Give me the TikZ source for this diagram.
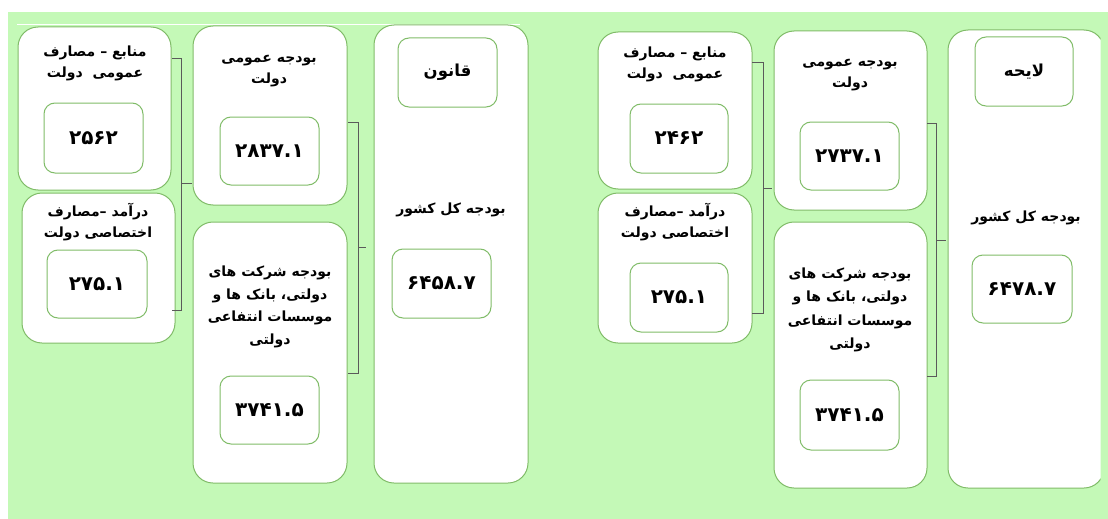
\documentclass[tikz,border=0pt]{standalone}
\usepackage{fontspec}
\newfontfamily\fa[Script=Arabic]{DejaVu Sans}
\TeXXeTstate=1
\definecolor{bggreen}{RGB}{196,249,183}
\definecolor{bord}{RGB}{128,188,104}
\definecolor{brk}{RGB}{90,90,90}
\tikzset{
  outerbox/.style={draw=bord, line width=1pt, fill=white, rounded corners=20pt, inner sep=0pt, outer sep=0pt},
  innerbox/.style={draw=bord, line width=1pt, fill=white, rounded corners=11pt, inner sep=0pt, outer sep=0pt, font=\fa\bfseries\fontsize{20pt}{22pt}\selectfont},
  headbox/.style={innerbox, font=\fa\bfseries\fontsize{16.5pt}{20pt}\selectfont},
  title/.style={font=\fa\bfseries\fontsize{14pt}{21pt}\selectfont, align=center, inner sep=0pt, text=black},
  bracket/.style={draw=brk, line width=0.7pt},
}
\newcommand{\rtl}[1]{\beginR #1\endR}
\begin{document}
\begin{tikzpicture}[x=1pt,y=-1pt]
\useasboundingbox (0,0) rectangle (1108,519);
\fill[white] (0,0) rectangle (1108,519);
\fill[bggreen] (8,12) rectangle (1108,519);
\draw[white, line width=1pt] (17,25) -- (520,25);
% ---------------- left group (qanun)
\node[outerbox, minimum width=153pt, minimum height=163pt] (A) at (94.5,108.5) {};
\node[outerbox, minimum width=153pt, minimum height=150pt] (B) at (98.5,268) {};
\node[outerbox, minimum width=154pt, minimum height=179pt] (C) at (270,115.5) {};
\node[outerbox, minimum width=154pt, minimum height=261pt] (D) at (270,352.5) {};
\node[outerbox, minimum width=154pt, minimum height=458pt] (E) at (451,254) {};
\node[innerbox, minimum width=99pt, minimum height=70pt] (iA) at (93.5,138) {۲۵۶۲};
\node[innerbox, minimum width=100pt, minimum height=68pt] (iB) at (97,284) {۲۷۵.۱};
\node[innerbox, minimum width=99pt, minimum height=68pt] (iC) at (269.5,151) {۲۸۳۷.۱};
\node[innerbox, minimum width=99pt, minimum height=68pt] (iD) at (269.5,410) {۳۷۴۱.۵};
\node[headbox, minimum width=99pt, minimum height=69pt] (iE1) at (447.5,72.5) {\rtl{قانون}};
\node[innerbox, minimum width=99pt, minimum height=69pt] (iE2) at (441.5,283.5) {۶۴۵۸.۷};
\node[title] (tA) at (95,63) {\rtl{منابع – مصارف}\\\rtl{عمومی\ \ دولت}};
\node[title] (tB) at (98,222) {\rtl{درآمد –مصارف}\\\rtl{اختصاصی دولت}};
\node[title] (tC) at (269,71) {\rtl{بودجه عمومی}\\\rtl{دولت}};
\node[title, font=\fa\bfseries\fontsize{14pt}{22.5pt}\selectfont] (tD) at (270,307) {\rtl{بودجه شرکت های}\\\rtl{دولتی، بانک ها و}\\\rtl{موسسات انتفاعی}\\\rtl{دولتی}};
\node[title] (tE) at (451,210) {\rtl{بودجه کل کشور}};
% brackets
\coordinate (b1t) at (172,58); \coordinate (b1b) at (172,310);
\coordinate (b1x) at (181,58); \coordinate (b1y) at (181,310);
\coordinate (b1m) at (181,183); \coordinate (b1n) at (192,183);
\draw[bracket] (b1t) -- (b1x) -- (b1y) -- (b1b);
\draw[bracket] (b1m) -- (b1n);
\coordinate (b2t) at (348,122); \coordinate (b2b) at (348,373);
\coordinate (b2x) at (358,122); \coordinate (b2y) at (358,373);
\coordinate (b2m) at (358,247); \coordinate (b2n) at (366,247);
\draw[bracket] (b2t) -- (b2x) -- (b2y) -- (b2b);
\draw[bracket] (b2m) -- (b2n);
% ---------------- right group (layehe)
\begin{scope}
\clip (0,0) rectangle (1100.5,519);
\node[outerbox, minimum width=156pt, minimum height=458pt] (E2) at (1026,259) {};
\end{scope}
\node[outerbox, minimum width=154pt, minimum height=157pt] (A2) at (675,110.5) {};
\node[outerbox, minimum width=154pt, minimum height=150pt] (B2) at (675,268) {};
\node[outerbox, minimum width=153pt, minimum height=179pt] (C2) at (850.5,120.5) {};
\node[outerbox, minimum width=153pt, minimum height=266pt] (D2) at (850.5,355) {};
\node[innerbox, minimum width=98pt, minimum height=69pt] (iA2) at (679,138.5) {۲۴۶۲};
\node[innerbox, minimum width=98pt, minimum height=69pt] (iB2) at (679,297.5) {۲۷۵.۱};
\node[innerbox, minimum width=99pt, minimum height=68pt] (iC2) at (849.5,156) {۲۷۳۷.۱};
\node[innerbox, minimum width=99pt, minimum height=70pt] (iD2) at (849.5,415) {۳۷۴۱.۵};
\node[headbox, minimum width=98pt, minimum height=69pt] (iE12) at (1024,71.5) {\rtl{لایحه}};
\node[innerbox, minimum width=100pt, minimum height=68pt] (iE22) at (1022,289) {۶۴۷۸.۷};
\node[title] (tA2) at (675,64.5) {\rtl{منابع – مصارف}\\\rtl{عمومی\ \ دولت}};
\node[title] (tB2) at (675,222) {\rtl{درآمد –مصارف}\\\rtl{اختصاصی دولت}};
\node[title] (tC2) at (850,75.5) {\rtl{بودجه عمومی}\\\rtl{دولت}};
\node[title, font=\fa\bfseries\fontsize{14pt}{23.3pt}\selectfont] (tD2) at (850,310) {\rtl{بودجه شرکت های}\\\rtl{دولتی، بانک ها و}\\\rtl{موسسات انتفاعی}\\\rtl{دولتی}};
\node[title] (tE2) at (1026,218) {\rtl{بودجه کل کشور}};
\coordinate (c1t) at (752,62); \coordinate (c1b) at (752,313);
\coordinate (c1x) at (763,62); \coordinate (c1y) at (763,313);
\coordinate (c1m) at (763,188); \coordinate (c1n) at (772,188);
\draw[bracket] (c1t) -- (c1x) -- (c1y) -- (c1b);
\draw[bracket] (c1m) -- (c1n);
\coordinate (c2t) at (927,123); \coordinate (c2b) at (927,376);
\coordinate (c2x) at (936,123); \coordinate (c2y) at (936,376);
\coordinate (c2m) at (936,240); \coordinate (c2n) at (946,240);
\draw[bracket] (c2t) -- (c2x) -- (c2y) -- (c2b);
\draw[bracket] (c2m) -- (c2n);
\end{tikzpicture}
\end{document}
